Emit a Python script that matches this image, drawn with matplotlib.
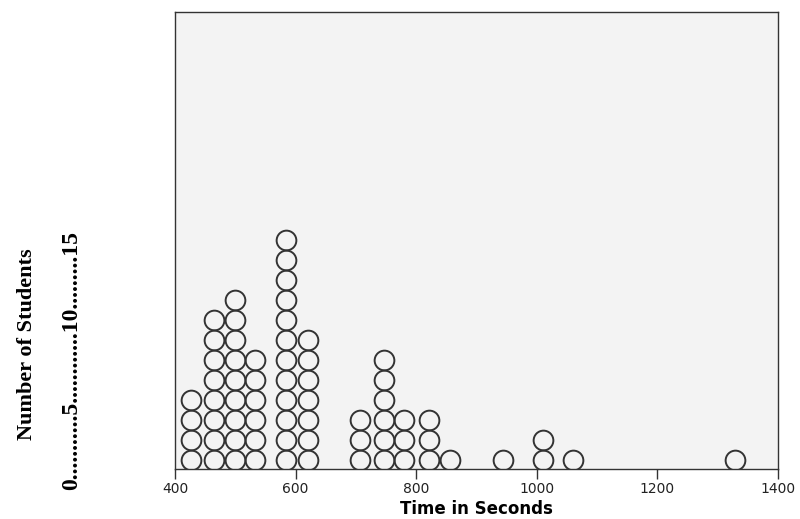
import matplotlib.pyplot as plt
import numpy as np

# dot plot data: time value of each column and number of students stacked
times = [427, 465, 500, 533, 584, 621, 707, 747, 780, 821, 856, 944, 1010, 1060, 1329]
counts = [4, 8, 9, 6, 12, 7, 3, 6, 3, 3, 1, 1, 2, 1, 1]
xticks = [400, 600, 800, 1000, 1200, 1400]
count_label = "0" + "." * 11 + "5" + "." * 12 + "10" + "." * 9 + "15"

fig = plt.figure(figsize=(8, 5.19), dpi=100)
ax = fig.add_axes([0.21875, 0.0963, 0.75375, 0.8806])
ax.set_facecolor("#f3f3f3")

xs = []
ys = []
for t, c in zip(times, counts):
    for k in range(c):
        xs.append(t)
        ys.append(k)
ax.plot(xs, ys, linestyle="none", marker="o", markersize=14.2,
        markerfacecolor="none", markeredgecolor="#333333", markeredgewidth=1.4)

ax.set_xlim(400, 1400)
ax.set_ylim(-0.45, 22.4)
ax.set_xticks(xticks)
ax.set_xticklabels([str(v) for v in xticks], fontsize=10, color="#222222")
ax.set_yticks([])
ax.tick_params(axis="x", direction="out", length=7, width=1, color="#333333", pad=2)
for s in ax.spines.values():
    s.set_color("#333333")
    s.set_linewidth(1)
ax.set_xlabel("Time in Seconds", fontsize=12, fontweight="bold", labelpad=3)

fig.text(0.09, 1 - 360 / 519, count_label, rotation=90,
         family="Liberation Serif", fontweight="bold", fontsize=17,
         ha="center", va="center")
fig.text(0.034, 1 - 344 / 519, "Number of Students", rotation=90,
         family="Liberation Serif", fontweight="bold", fontsize=16,
         ha="center", va="center")

plt.savefig("out.png", dpi=100)
